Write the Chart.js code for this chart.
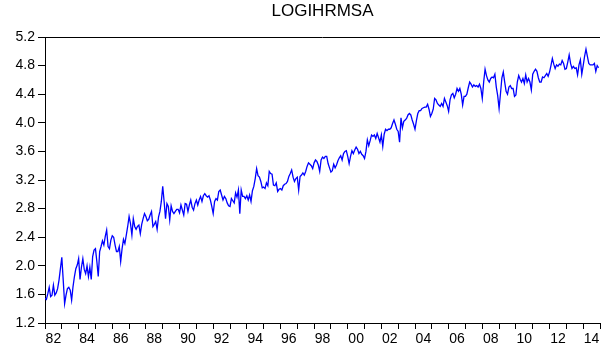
<!DOCTYPE html>
<html>
<head>
<meta charset="utf-8">
<script src="https://cdn.jsdelivr.net/npm/chart.js@4.4.0/dist/chart.umd.min.js"></script>
<style>
  html, body { margin: 0; padding: 0; background: #fff; overflow: hidden; }
</style>
</head>
<body>
<canvas id="chart" width="602" height="354"></canvas>
<script>
// Monthly series, 1982M01 .. 2014M12 (one row per year)
const firstYear = 1982;
const lastYear = 2015;
const logihrmsa = [
  1.545, 1.53, 1.61, 1.70, 1.57, 1.59, 1.73, 1.59, 1.62, 1.68, 1.80, 1.96,
  2.12, 1.80, 1.47, 1.59, 1.68, 1.70, 1.66, 1.52, 1.71, 1.85, 1.96, 2.01,
  2.10, 1.81, 1.98, 2.10, 1.95, 1.89, 2.00, 1.85, 1.98, 1.81, 2.13, 2.22,
  2.24, 2.06, 1.85, 2.20, 2.27, 2.35, 2.29, 2.41, 2.50, 2.27, 2.24, 2.36,
  2.42, 2.40, 2.29, 2.20, 2.20, 2.27, 2.06, 2.24, 2.37, 2.31, 2.43, 2.55,
  2.69, 2.59, 2.43, 2.66, 2.55, 2.51, 2.55, 2.57, 2.45, 2.58, 2.66, 2.73,
  2.69, 2.63, 2.65, 2.71, 2.76, 2.55, 2.58, 2.62, 2.51, 2.68, 2.76, 2.90,
  3.11, 2.90, 2.66, 2.87, 2.83, 2.64, 2.84, 2.76, 2.73, 2.76, 2.79, 2.79,
  2.74, 2.85, 2.78, 2.71, 2.87, 2.86, 2.76, 2.85, 2.92, 2.82, 2.78, 2.87,
  2.92, 2.85, 2.92, 2.97, 2.90, 2.98, 3.01, 2.98, 2.96, 2.98, 2.92, 2.83,
  2.73, 2.90, 2.94, 2.92, 3.04, 3.06, 2.99, 2.92, 2.97, 2.94, 2.88, 2.84,
  2.83, 2.94, 2.91, 2.88, 3.02, 2.96, 3.06, 2.73, 3.06, 2.97, 2.97, 2.94,
  2.98, 2.92, 2.99, 2.90, 3.05, 3.11, 3.22, 3.36, 3.26, 3.24, 3.18, 3.09,
  3.10, 3.08, 3.16, 3.12, 3.32, 3.29, 3.28, 3.13, 3.12, 3.16, 3.04, 3.07,
  3.08, 3.06, 3.12, 3.14, 3.15, 3.18, 3.25, 3.29, 3.34, 3.24, 3.18, 3.22,
  3.24, 3.06, 3.25, 3.27, 3.30, 3.27, 3.32, 3.39, 3.44, 3.42, 3.40, 3.36,
  3.44, 3.48, 3.46, 3.41, 3.32, 3.48, 3.52, 3.50, 3.53, 3.53, 3.43, 3.37,
  3.31, 3.33, 3.42, 3.37, 3.41, 3.47, 3.51, 3.54, 3.48, 3.57, 3.60, 3.61,
  3.53, 3.43, 3.53, 3.61, 3.57, 3.62, 3.66, 3.63, 3.57, 3.60, 3.56, 3.54,
  3.50, 3.60, 3.76, 3.68, 3.75, 3.83, 3.81, 3.83, 3.78, 3.85, 3.79, 3.73,
  3.83, 3.67, 3.84, 3.91, 3.89, 3.91, 3.91, 3.93, 3.99, 4.04, 3.98, 3.91,
  3.88, 3.73, 4.07, 3.93, 4.02, 4.04, 4.06, 4.11, 4.13, 4.11, 4.04, 3.98,
  3.91, 4.03, 4.13, 4.17, 4.17, 4.20, 4.21, 4.22, 4.22, 4.26, 4.19, 4.09,
  4.13, 4.19, 4.34, 4.32, 4.27, 4.25, 4.23, 4.27, 4.23, 4.34, 4.29, 4.24,
  4.16, 4.32, 4.39, 4.41, 4.35, 4.40, 4.48, 4.44, 4.48, 4.40, 4.25, 4.37,
  4.37, 4.40, 4.49, 4.57, 4.54, 4.50, 4.53, 4.51, 4.52, 4.50, 4.54, 4.48,
  4.34, 4.57, 4.75, 4.66, 4.60, 4.57, 4.62, 4.64, 4.63, 4.68, 4.50, 4.38,
  4.20, 4.41, 4.63, 4.71, 4.57, 4.44, 4.40, 4.50, 4.52, 4.48, 4.48, 4.37,
  4.39, 4.57, 4.66, 4.61, 4.57, 4.62, 4.55, 4.67, 4.57, 4.62, 4.57, 4.46,
  4.68, 4.72, 4.75, 4.72, 4.63, 4.57, 4.57, 4.64, 4.63, 4.66, 4.69, 4.65,
  4.71, 4.80, 4.90, 4.82, 4.76, 4.81, 4.79, 4.82, 4.81, 4.87, 4.83, 4.75,
  4.76, 4.85, 4.95, 4.83, 4.76, 4.79, 4.76, 4.77, 4.67, 4.81, 4.88, 4.68,
  4.80, 4.93, 5.03, 4.93, 4.83, 4.81, 4.81, 4.81, 4.83, 4.72, 4.80, 4.77
];
const yearLabels = ['82', '84', '86', '88', '90', '92', '94', '96', '98',
  '00', '02', '04', '06', '08', '10', '12', '14'];
const yTicks = [1.2, 1.6, 2.0, 2.4, 2.8, 3.2, 3.6, 4.0, 4.4, 4.8, 5.2];
const title = 'LOGIHRMSA';

const fontFamily = 'Arial, "Liberation Sans", sans-serif';
const tickFont = { family: fontFamily, size: 14 };

const points = logihrmsa.map((v, i) => ({ x: firstYear + i / 12, y: v }));

const years = [];
for (let y = firstYear; y <= lastYear; y++) years.push(y);

// title centred over the plot, plus the top edge of the frame
const frame = {
  id: 'frame',
  afterDraw(chart) {
    const { ctx, chartArea } = chart;
    ctx.save();
    ctx.strokeStyle = '#000';
    ctx.lineWidth = 1;
    ctx.beginPath();
    ctx.moveTo(chartArea.left, Math.round(chartArea.top) + 0.5);
    ctx.lineTo(chartArea.right, Math.round(chartArea.top) + 0.5);
    ctx.stroke();

    ctx.fillStyle = '#000';
    ctx.font = '17px ' + fontFamily;
    ctx.textAlign = 'center';
    ctx.textBaseline = 'middle';
    ctx.fillText(title, (chartArea.left + chartArea.right) / 2, 11);
    ctx.restore();
  }
};

new Chart(document.getElementById('chart'), {
  type: 'line',
  data: {
    datasets: [{
      label: title,
      data: points,
      borderColor: '#0000ff',
      borderWidth: 1.3,
      pointRadius: 0,
      tension: 0,
      fill: false
    }]
  },
  options: {
    responsive: false,
    animation: false,
    devicePixelRatio: 1,
    layout: { padding: { left: 0, right: 0, top: 37, bottom: 0 } },
    plugins: {
      legend: { display: false },
      tooltip: { enabled: false },
      title: { display: false }
    },
    scales: {
      x: {
        type: 'linear',
        min: firstYear,
        max: lastYear,
        afterBuildTicks: axis => { axis.ticks = years.map(v => ({ value: v })); },
        afterFit: scale => { scale.height = 31; },
        ticks: {
          autoSkip: false,
          maxRotation: 0,
          minRotation: 0,
          labelOffset: 8.4,
          padding: 2,
          color: '#000',
          font: tickFont,
          callback: v => ((v - firstYear) % 2 === 0 ? yearLabels[(v - firstYear) / 2] || '' : '')
        },
        grid: { drawOnChartArea: false, drawTicks: true, tickLength: 6, color: '#000' },
        border: { color: '#000', width: 1 }
      },
      y: {
        min: 1.2,
        max: 5.2,
        afterBuildTicks: axis => { axis.ticks = yTicks.map(v => ({ value: v })); },
        afterFit: scale => { scale.width = 45; },
        ticks: {
          padding: 3,
          color: '#000',
          font: tickFont,
          callback: v => v.toFixed(1)
        },
        grid: { drawOnChartArea: false, drawTicks: true, tickLength: 7, color: '#000' },
        border: { color: '#000', width: 1 }
      }
    }
  },
  plugins: [frame]
});
</script>
</body>
</html>
